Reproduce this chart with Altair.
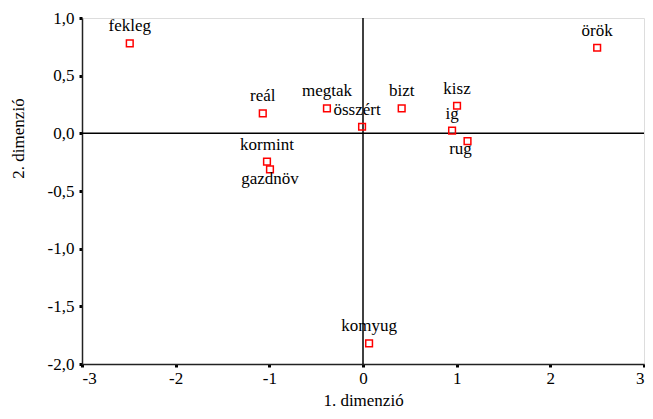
import altair as alt
import pandas as pd

labels = ["fekleg", "örök", "reál", "megtak", "összért", "bizt", "kisz", "ig", "rug",
          "kormint", "gazdnöv", "komyug"]
dim1 = [-2.49, 2.50, -1.07, -0.385, -0.01, 0.413, 1.004, 0.951, 1.116, -1.025, -0.993, 0.065]
dim2 = [0.78, 0.742, 0.173, 0.217, 0.057, 0.217, 0.239, 0.023, -0.067, -0.246, -0.312, -1.821]
x_ticks = [-3, -2, -1, 0, 1, 2, 3]
y_ticks = [-2.0, -1.5, -1.0, -0.5, 0.0, 0.5, 1.0]

df = pd.DataFrame({"label": labels, "d1": dim1, "d2": dim2})
zero = pd.DataFrame({"z": [0]})

FONT = "Liberation Serif"
FS = 17

x = alt.X("d1:Q", scale=alt.Scale(domain=[-3, 3], nice=False, zero=False),
          axis=alt.Axis(values=x_ticks, title="1. dimenzió", grid=False,
                        labelExpr="replace(format(datum.value, 'd'), '\u2212', '-')",
                        labelFont=FONT, labelFontSize=FS, labelColor="black",
                        titleFont=FONT, titleFontSize=FS, titleFontWeight="normal",
                        titleColor="black", domainColor="#222", domainWidth=1.5,
                        tickColor="black", tickSize=3, tickWidth=3, labelPadding=3,
                        titleY=36, titleBaseline="middle"))
y = alt.Y("d2:Q", scale=alt.Scale(domain=[-2, 1], nice=False, zero=False),
          axis=alt.Axis(values=y_ticks, title="2. dimenzió", grid=False,
                        labelExpr="replace(replace(format(datum.value, '.1f'), '.', ','), '\u2212', '-')",
                        labelFont=FONT, labelFontSize=FS, labelColor="black",
                        titleFont=FONT, titleFontSize=FS, titleFontWeight="normal",
                        titleColor="black", domainColor="#222", domainWidth=1.5,
                        tickColor="black", tickSize=3, tickWidth=3, labelPadding=5,
                        titleAngle=270, titleX=-64, titleY=120,
                        titleAlign="center", titleBaseline="middle"))

vline = alt.Chart(zero).mark_rule(color="black", strokeWidth=1.5).encode(x=alt.X("z:Q"))
hline = alt.Chart(zero).mark_rule(color="black", strokeWidth=1.5).encode(y=alt.Y("z:Q"))

pts = alt.Chart(df).mark_point(shape="square", filled=False, color="#ff0000",
                               size=45, strokeWidth=1.5, opacity=1).encode(x=x, y=y)

base = alt.Chart(df).encode(x=x, y=y, text="label:N")
txt_main = base.transform_filter(
    "datum.label != 'rug' && datum.label != 'gazdnöv' && datum.label != 'összért'"
).mark_text(font=FONT, fontSize=FS, color="black", dy=-12, baseline="alphabetic")
txt_ossz = base.transform_filter("datum.label == 'összért'").mark_text(
    font=FONT, fontSize=FS, color="black", dx=-5, dy=-12, baseline="alphabetic")
txt_rug = base.transform_filter("datum.label == 'rug'").mark_text(
    font=FONT, fontSize=FS, color="black", dx=-7, dy=13, baseline="alphabetic")
txt_gazd = base.transform_filter("datum.label == 'gazdnöv'").mark_text(
    font=FONT, fontSize=FS, color="black", dy=15, baseline="alphabetic")

chart = alt.layer(vline, hline, pts, txt_main, txt_ossz, txt_rug, txt_gazd).properties(
    width=562, height=346,
    autosize=alt.AutoSizeParams(type="none"),
    padding={"left": 74, "top": 10, "right": 1, "bottom": 47},
).configure_view(stroke="black", strokeWidth=1.5).configure(background="white")

chart.save("out.html", embed_options={"renderer": "svg", "actions": False})
